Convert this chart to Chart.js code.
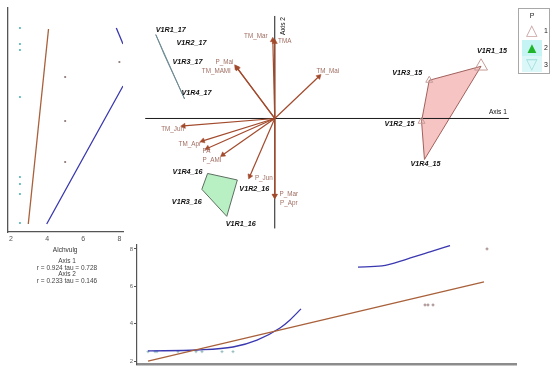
<!DOCTYPE html>
<html>
<head>
<meta charset="utf-8">
<script src="https://cdn.jsdelivr.net/npm/chart.js@4.4.1/dist/chart.umd.min.js"></script>
<style>
  body { margin: 0; background: #fff; width: 550px; height: 370px; position: relative; overflow: hidden;
         font-family: "Liberation Sans", Arial, sans-serif; }
  canvas { position: absolute; }
  #left-plot { left: 0; top: 0; }
  #biplot { left: 130px; top: 0; }
  #bottom-plot { left: 125px; top: 240px; }
  #axis-stats { position: absolute; left: 0; top: 258px; width: 134px; text-align: center;
                font-size: 6.5px; line-height: 6.5px; color: #444; }
  #legend-box { position: absolute; left: 518px; top: 8px; width: 30px; height: 64px;
                border: 1px solid #a8a8a8; font-size: 7px; color: #222; }
  #legend-box .title { position: absolute; left: 0; width: 26px; top: 3px; text-align: center; }
  #legend-box .sym { position: absolute; left: 3px; width: 20px; height: 16px; text-align: center;
                     font-size: 15px; line-height: 16px; }
  #legend-box .num { position: absolute; left: 25px; }
</style>
</head>
<body>
<canvas id="left-plot" width="127" height="258"></canvas>
<canvas id="biplot" width="420" height="250"></canvas>
<canvas id="bottom-plot" width="425" height="130"></canvas>

<div id="axis-stats">Axis 1<br>r = 0.924 tau = 0.728<br>Axis 2<br>r = 0.233 tau = 0.146</div>

<div id="legend-box">
  <div class="title">P</div>
  <div class="sym" style="top:13px;color:#c9a3a3;">&#9651;</div><div class="num" style="top:18px;">1</div>
  <div class="sym" style="top:31px;color:#1fb52a;background:#c6f3f3;">&#9650;</div><div class="num" style="top:35px;">2</div>
  <div class="sym" style="top:47px;color:#9fdede;background:#dcf7f7;">&#9661;</div><div class="num" style="top:52px;">3</div>
</div>

<script>
// Sites (relevés) and their ordination scores
const SITE_NAMES = ["V1R1_15", "V1R2_15", "V1R3_15", "V1R4_15",
                    "V1R1_16", "V1R2_16", "V1R3_16", "V1R4_16",
                    "V1R1_17", "V1R2_17", "V1R3_17", "V1R4_17"];
const SITE_GROUP = [1, 1, 1, 1, 2, 2, 2, 2, 3, 3, 3, 3];
const SITE_AXIS1 = [4.30, 3.06, 3.22, 3.12, -1.00, -0.78, -1.52, -1.40, -2.48, -2.34, -2.30, -1.88];
const SITE_AXIS2 = [1.12, -0.06, 0.82, -0.88, -2.10, -1.32, -1.52, -1.18, 1.80, 1.48, 1.36, 0.42];
const SITE_ALCHVULG = [8, 5, 5, 5, 2.5, 2.5, 2.5, 2.5, 2.5, 2.5, 2.5, 2.5];

// Environmental variables (biplot vectors)
const VAR_NAMES = ["TM_Mar", "TMA", "TM_Mai", "P_Mai", "TM_MAMI", "TM_Jun",
                   "TM_Apr", "PA", "P_AMI", "P_Jun", "P_Mar", "P_Apr"];
const VAR_AXIS1 = [-0.04, 0.00, 0.92, -0.80, -0.78, -1.90, -1.50, -1.40, -1.08, -0.52, 0.00, 0.00];
const VAR_AXIS2 = [1.68, 1.64, 0.90, 1.10, 1.08, -0.16, -0.48, -0.64, -0.78, -1.24, -1.66, -1.66];

// Alchvulg vs Axis 2 fits (left panel)
const LEFT_LINEAR_X = [2.96, 4.08];
const LEFT_LINEAR_Y = [-2.12, 1.78];
const LEFT_SMOOTH_X = [3.98, 6.01, 8.2];
const LEFT_SMOOTH_Y = [-2.12, -0.79, 0.64];
const LEFT_SMOOTH2_X = [7.83, 8.2];
const LEFT_SMOOTH2_Y = [1.80, 1.48];
const LEFT_TICKS = [2, 4, 6, 8];

// Axis 1 vs Alchvulg fits (bottom panel)
const BOTTOM_LINEAR_X = [-2.48, 4.24];
const BOTTOM_LINEAR_Y = [2.0, 6.23];
const BOTTOM_SMOOTH_X = [-2.48, -1.50, -0.78, -0.30, 0.16, 0.36, 0.58];
const BOTTOM_SMOOTH_Y = [2.54, 2.59, 2.75, 3.12, 3.77, 4.20, 4.79];
const BOTTOM_SMOOTH2_X = [1.72, 2.20, 2.70, 3.16, 3.56];
const BOTTOM_SMOOTH2_Y = [7.03, 7.09, 7.46, 7.84, 8.18];
const BOTTOM_TICKS = [2, 4, 6, 8];

// Extent of the drawn ordination axes
const AXIS1_EXTENT = [-2.70, 4.88];
const AXIS2_EXTENT = [-2.36, 2.20];

// Label placement (pixel nudges from the point)
const SITE_LABEL_NUDGE = [[11, -15], [-22, 3], [-22, -7], [1, 5], [14, 8], [17, 9], [-15, 13], [-20, -1],
                          [15, -5], [29, -6], [23, 7], [12, -6]];
const VAR_LABEL_NUDGE = [[-17, -4], [10, -1], [9, -5], [-12, -5], [-21, 3], [-11, 3], [-13, 3], [-1, 3],
                         [-11, 5], [14, 2], [14, -2], [14, 7]];

const ARROW_COLOR = '#a24a2c';
const VAR_TEXT_COLOR = '#a06e62';
const FIT_BROWN = '#a8603a';
const FIT_BLUE = '#3a38b0';

Chart.defaults.font.family = '"Liberation Sans", Arial, sans-serif';
Chart.defaults.animation = false;
Chart.defaults.plugins.legend.display = false;
Chart.defaults.plugins.tooltip.enabled = false;

function pts(xs, ys) {
  return xs.map((x, i) => ({x: x, y: ys[i]}));
}

// Simple monotone chain convex hull, returned closed
function hull(points) {
  const p = points.slice().sort((a, b) => a.x - b.x || a.y - b.y);
  const cross = (o, a, b) => (a.x - o.x) * (b.y - o.y) - (a.y - o.y) * (b.x - o.x);
  const lower = [], upper = [];
  p.forEach(q => {
    while (lower.length >= 2 && cross(lower[lower.length - 2], lower[lower.length - 1], q) <= 0) lower.pop();
    lower.push(q);
  });
  p.slice().reverse().forEach(q => {
    while (upper.length >= 2 && cross(upper[upper.length - 2], upper[upper.length - 1], q) <= 0) upper.pop();
    upper.push(q);
  });
  const h = lower.slice(0, -1).concat(upper.slice(0, -1));
  h.push(h[0]);
  return h;
}

// Draws text at data positions (plus a pixel nudge)
const textLabels = {
  id: 'textLabels',
  afterDatasetsDraw(chart, args, opts) {
    const ctx = chart.ctx;
    const xs = chart.scales.x, ys = chart.scales.y;
    (opts.items || []).forEach(it => {
      ctx.save();
      ctx.font = it.font;
      ctx.fillStyle = it.color;
      ctx.textAlign = 'center';
      ctx.textBaseline = 'middle';
      ctx.translate(xs.getPixelForValue(it.x) + it.dx, ys.getPixelForValue(it.y) + it.dy);
      if (it.rot) ctx.rotate(it.rot);
      ctx.fillText(it.text, 0, 0);
      ctx.restore();
    });
  }
};

const siteColor = SITE_GROUP.map(g => g === 1 ? '#8c7474' : '#4fb4b4');

/* ---------- left panel: Alchvulg vs Axis 2 ---------- */
new Chart(document.getElementById('left-plot'), {
  type: 'scatter',
  data: {
    datasets: [
      {data: pts(LEFT_LINEAR_X, LEFT_LINEAR_Y), showLine: true, borderColor: FIT_BROWN, borderWidth: 1.3, pointRadius: 0},
      {data: pts(LEFT_SMOOTH_X, LEFT_SMOOTH_Y), showLine: true, borderColor: FIT_BLUE, borderWidth: 1.3, pointRadius: 0},
      {data: pts(LEFT_SMOOTH2_X, LEFT_SMOOTH2_Y), showLine: true, borderColor: FIT_BLUE, borderWidth: 1.3, pointRadius: 0},
      {data: pts(SITE_ALCHVULG, SITE_AXIS2), pointRadius: 1.1, pointBorderWidth: 0,
       pointBackgroundColor: siteColor}
    ]
  },
  options: {
    responsive: false,
    layout: {padding: {left: 7.3, top: 8, right: 0, bottom: 0}},
    scales: {
      x: {
        min: 1.8, max: 8.2,
        afterBuildTicks: s => { s.ticks = LEFT_TICKS.map(v => ({value: v})); },
        afterFit: s => { s.height = 26; },
        grid: {display: false, drawTicks: false},
        border: {color: '#555', width: 1.3},
        ticks: {font: {size: 7}, color: '#555', padding: 3},
        title: {display: true, text: 'Alchvulg', font: {size: 6.5}, color: '#333', padding: {top: 0, bottom: 4}}
      },
      y: {
        min: -2.28, max: 2.2,
        afterFit: s => { s.width = 0; },
        grid: {display: false, drawTicks: false},
        border: {color: '#555', width: 1.3},
        ticks: {display: false}
      }
    }
  }
});

/* ---------- main biplot ---------- */
const biplotSets = [];

// ordination axes
biplotSets.push({data: [{x: AXIS1_EXTENT[0], y: 0}, {x: AXIS1_EXTENT[1], y: 0}], showLine: true,
                 borderColor: '#1a1a1a', borderWidth: 1, pointRadius: 0, order: 3});
biplotSets.push({data: [{x: 0, y: AXIS2_EXTENT[0]}, {x: 0, y: AXIS2_EXTENT[1]}], showLine: true,
                 borderColor: '#1a1a1a', borderWidth: 1, pointRadius: 0, order: 3});

// group hulls
const hullStyle = {
  1: {fill: '#f6c4c2', line: '#a0605c'},
  2: {fill: '#b8f0c4', line: '#5c6e60'},
  3: {fill: '#c8d8dc', line: '#6f8c94'}
};
[1, 2, 3].forEach(g => {
  const gp = pts(SITE_AXIS1, SITE_AXIS2).filter((p, i) => SITE_GROUP[i] === g);
  biplotSets.push({data: hull(gp), showLine: true, fill: 'shape', backgroundColor: hullStyle[g].fill,
                   borderColor: hullStyle[g].line, borderWidth: 1, pointRadius: 0, tension: 0, order: 4});
});

// variable arrows
VAR_NAMES.forEach((name, i) => {
  const dx = VAR_AXIS1[i], dy = VAR_AXIS2[i];
  const angle = Math.atan2(dx, dy) * 180 / Math.PI;
  biplotSets.push({data: [{x: 0, y: 0}, {x: dx, y: dy}], showLine: true, borderColor: ARROW_COLOR,
                   borderWidth: 1.2, pointRadius: [0, 3], pointStyle: 'triangle', rotation: [0, angle],
                   pointBackgroundColor: ARROW_COLOR, pointBorderColor: ARROW_COLOR, pointBorderWidth: 0.5, order: 2});
});

// group 1 triangles
biplotSets.push({
  data: pts(SITE_AXIS1, SITE_AXIS2).filter((p, i) => SITE_GROUP[i] === 1),
  pointStyle: 'triangle', pointRadius: [7.5, 4, 4, 0], pointBorderColor: '#c49c98',
  pointBackgroundColor: 'rgba(0,0,0,0)', pointBorderWidth: 1, order: 1
});

const biplotLabels = [];
SITE_NAMES.forEach((name, i) => {
  biplotLabels.push({text: name, x: SITE_AXIS1[i], y: SITE_AXIS2[i], dx: SITE_LABEL_NUDGE[i][0],
                     dy: SITE_LABEL_NUDGE[i][1], font: 'italic bold 7.2px "Liberation Sans", Arial', color: '#111'});
});
VAR_NAMES.forEach((name, i) => {
  biplotLabels.push({text: name, x: VAR_AXIS1[i], y: VAR_AXIS2[i], dx: VAR_LABEL_NUDGE[i][0],
                     dy: VAR_LABEL_NUDGE[i][1], font: '6.3px "Liberation Sans", Arial', color: VAR_TEXT_COLOR});
});
biplotLabels.push({text: 'Axis 1', x: AXIS1_EXTENT[1], y: 0, dx: -11, dy: -6,
                   font: '6.6px "Liberation Sans", Arial', color: '#111'});
biplotLabels.push({text: 'Axis 2', x: 0, y: AXIS2_EXTENT[1], dx: 8, dy: 10, rot: -Math.PI / 2,
                   font: '6.6px "Liberation Sans", Arial', color: '#111'});

new Chart(document.getElementById('biplot'), {
  type: 'scatter',
  data: {datasets: biplotSets},
  options: {
    responsive: false,
    layout: {padding: 0},
    scales: {
      x: {display: false, min: -2.84, max: 5.56},
      y: {display: false, min: -2.64, max: 2.36}
    },
    plugins: {textLabels: {items: biplotLabels}}
  },
  plugins: [textLabels]
});

/* ---------- bottom panel: Axis 1 vs Alchvulg ---------- */
new Chart(document.getElementById('bottom-plot'), {
  type: 'scatter',
  data: {
    datasets: [
      {data: pts(BOTTOM_LINEAR_X, BOTTOM_LINEAR_Y), showLine: true, borderColor: FIT_BROWN, borderWidth: 1.3, pointRadius: 0},
      {data: pts(BOTTOM_SMOOTH_X, BOTTOM_SMOOTH_Y), showLine: true, borderColor: FIT_BLUE, borderWidth: 1.3,
       pointRadius: 0, cubicInterpolationMode: 'monotone'},
      {data: pts(BOTTOM_SMOOTH2_X, BOTTOM_SMOOTH2_Y), showLine: true, borderColor: FIT_BLUE, borderWidth: 1.3,
       pointRadius: 0, cubicInterpolationMode: 'monotone'},
      {data: pts(SITE_AXIS1, SITE_ALCHVULG), pointStyle: 'cross', pointRadius: 1.5, pointBorderWidth: 0.8,
       pointBorderColor: SITE_GROUP.map(g => g === 1 ? '#8a6a6a' : '#7fb0b4')}
    ]
  },
  options: {
    responsive: false,
    layout: {padding: {left: 0, top: 5, right: 34, bottom: 6}},
    scales: {
      x: {
        min: -2.70, max: 4.88,
        afterFit: s => { s.height = 0; },
        grid: {display: false, drawTicks: false},
        ticks: {display: false},
        border: {color: '#8c8c8c', width: 2.5}
      },
      y: {
        min: 1.84, max: 8.21,
        afterBuildTicks: s => { s.ticks = BOTTOM_TICKS.map(v => ({value: v})); },
        afterFit: s => { s.width = 12; },
        grid: {drawOnChartArea: false, tickLength: 3, color: '#555'},
        border: {color: '#555', width: 1.2},
        ticks: {font: {size: 6}, color: '#666', padding: 1}
      }
    }
  }
});
</script>
</body>
</html>
